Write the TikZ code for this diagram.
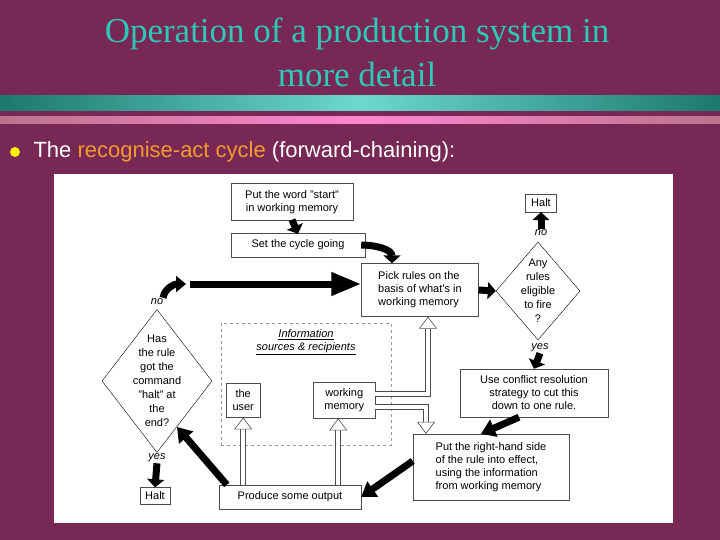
\documentclass[tikz,border=0pt]{standalone}
\usepackage{fontspec}
\setmainfont{Liberation Sans}
\newfontfamily\titlefont{Liberation Serif}
\usetikzlibrary{arrows.meta,shapes.geometric}
\definecolor{bg}{HTML}{772855}
\definecolor{teal}{HTML}{2EC8B8}
\definecolor{orng}{HTML}{F39A2E}
\begin{document}
\begin{tikzpicture}[x=1pt,y=-1pt,
  box/.style={draw=black!70,fill=white,font=\fontsize{11}{13}\selectfont,inner sep=2pt,align=left},
  dia/.style={draw=black,diamond,fill=white,align=center,font=\fontsize{11}{14}\selectfont,inner sep=-6pt},
  blk/.style={line width=7pt,-{Triangle[length=14pt,width=18pt]}},
  sblk/.style={line width=7pt,-{Triangle[length=8pt,width=17pt]}},
  lbl/.style={font=\itshape\fontsize{11}{13}\selectfont,inner sep=1pt}]
\fill[bg] (0,0) rectangle (720,540);
\useasboundingbox (0,0) rectangle (720,540);
\shade[left color=teal!60!black,right color=teal!60!black,middle color=teal!70!white] (0,96) rectangle (720,111);
\shade[left color=pink!50!bg,right color=pink!50!bg,middle color=pink!70!magenta] (0,117) rectangle (720,124);
\node[text=teal,font=\titlefont\fontsize{35}{44}\selectfont,align=center] (title) at (357,52) {Operation of a production system in\\more detail};
\fill[yellow] (15,152) circle (5);
\node[anchor=west,text=white,font=\fontsize{22}{26}\selectfont] (bullet) at (30,152) {The \textcolor{orng}{recognise-act cycle} (forward-chaining):};
\fill[white] (54,174) rectangle (673,523);
% nodes
\node[box,minimum width=122pt,minimum height=37pt,align=center] (start) at (292,202) {Put the word "start"\\in working memory};
\node[box,minimum width=134pt,minimum height=24pt] (set) at (298,245) {Set the cycle going};
\node[box,minimum width=117pt,minimum height=53pt] (pick) at (420,290) {Pick rules on the\\basis of what's in\\working memory};
\node[box,minimum width=31pt,minimum height=18pt] (halt1) at (541,203) {Halt};
\node[dia,minimum width=84pt,minimum height=98pt,shape aspect=0.85] (d1) at (538,291) {Any\\rules\\eligible\\to fire\\?};
\node[box,minimum width=148pt,minimum height=48pt,align=center] (conf) at (534,393) {Use conflict resolution\\strategy to cut this\\down to one rule.};
\node[box,minimum width=156pt,minimum height=66pt] (rhs) at (491,467) {Put the right-hand side\\of the rule into effect,\\using the information\\from working memory};
\node[box,minimum width=142pt,minimum height=24pt] (prod) at (290,497) {Produce some output};
\node[dia,minimum width=110pt,minimum height=143pt,shape aspect=0.75] (d2) at (157,381) {Has\\the rule\\got the\\command\\"halt" at\\the\\end?};
\node[box,minimum width=30pt,minimum height=17pt] (halt2) at (155,496) {Halt};
\node[draw=black!40,dashed,minimum width=170pt,minimum height=122pt] (info) at (306,384) {};
\node[font=\itshape\fontsize{11}{13}\selectfont,align=center] (infol) at (306,342) {\underline{Information}\\\underline{sources \& recipients}};
\node[box,minimum width=34pt,minimum height=34pt,align=center,anchor=north west] (user) at (226,383) {the\\user};
\node[box,minimum width=62pt,minimum height=36pt,align=center,anchor=north west] (wm) at (313,382) {working\\memory};
\node[lbl] (no2) at (157,302) {no};
\node[lbl] (yes2) at (157,458) {yes};
\node[lbl] (no1) at (541,233) {no};
\node[lbl] (yes1) at (540,348) {yes};
% black arrows
\draw[sblk] ([yshift=1pt]start.south) -- ([yshift=-1pt]set.north);
\draw[sblk] ([xshift=-4pt]set.east) to[out=0,in=90] ([xshift=-28pt]pick.north);
\draw[sblk] (pick.east) -- (d1.west);
\draw[sblk] (no1.north) -- (halt1.south);
\draw[sblk] (yes1.south) -- (conf.north);
\draw[blk] ([xshift=-15pt]conf.south) -- ([xshift=-10pt]rhs.north);
\draw[blk] ([yshift=6pt]rhs.west) -- (prod.east);
\coordinate (dtip) at (177,427);
\draw[blk] ([xshift=8pt]prod.north west) -- (dtip);
\draw[sblk] (yes2.south) -- (halt2.north);
\coordinate (lp) at (186,284);
\draw[blk,-{Triangle[length=10pt,width=16pt]}] ([xshift=6pt]no2.north) to[out=80,in=180] (lp);
\draw[blk,-{Triangle[length=30pt,width=22pt]}] ([xshift=4pt]lp) -- (pick.west|-lp);
% hollow arrows
\tikzset{hol/.style={double=white,double distance=4pt,line width=1pt,draw=black!70,
  -{Triangle[open,length=12pt,width=18pt,fill=white,line width=0.6pt]}}}
\draw[hol] (user.south|-prod.north) -- (user.south);
\draw[hol] ([xshift=-6pt]wm.south|-prod.north) -- ([xshift=-6pt]wm.south);
\draw[hol] ([yshift=6pt]wm.east) -| ([xshift=8pt]pick.south);
\draw[hol] ([yshift=-7pt]wm.east) -| ([xshift=-65pt]rhs.north);
\end{tikzpicture}
\end{document}
